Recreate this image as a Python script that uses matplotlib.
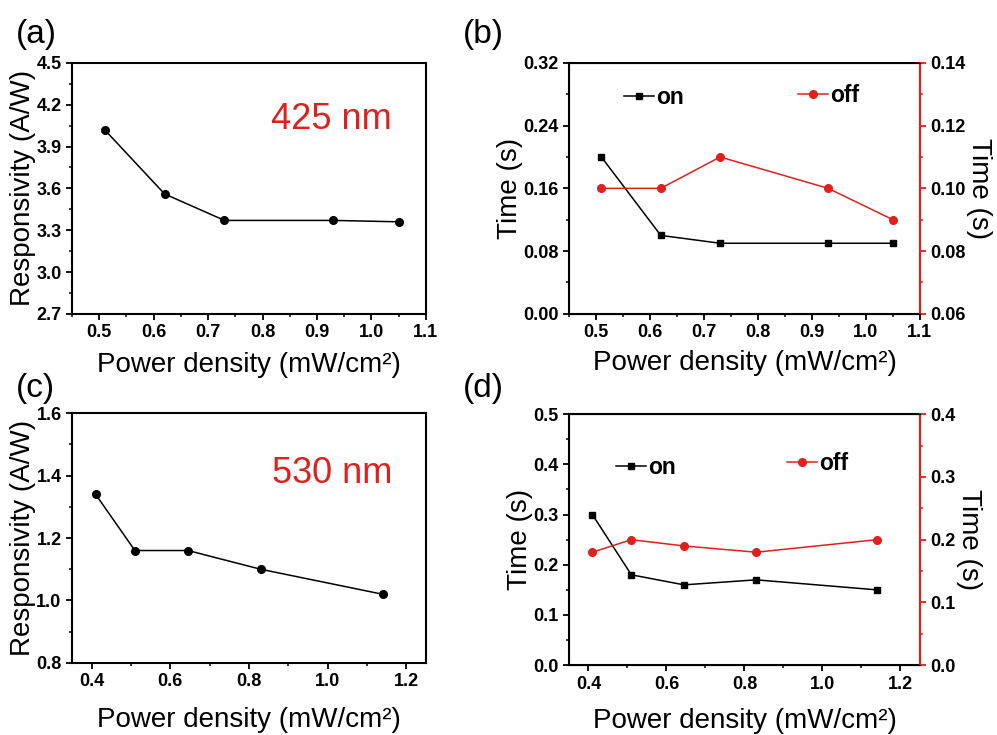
import matplotlib
matplotlib.use("Agg")
import matplotlib.pyplot as plt
from matplotlib.ticker import MultipleLocator, AutoMinorLocator

plt.rcParams['font.family'] = ['Liberation Sans', 'DejaVu Sans']

# ------------ data ----------------
x_425 = [0.51, 0.62, 0.73, 0.93, 1.05]
resp_425 = [4.02, 3.56, 3.37, 3.37, 3.36]
t_on_425 = [0.20, 0.10, 0.09, 0.09, 0.09]
t_off_425 = [0.10, 0.10, 0.11, 0.10, 0.09]

x_530 = [0.41, 0.51, 0.645, 0.83, 1.14]
resp_530 = [1.34, 1.16, 1.16, 1.10, 1.02]
t_on_530 = [0.30, 0.18, 0.16, 0.17, 0.15]
t_off_530 = [0.18, 0.20, 0.19, 0.18, 0.20]

RED = '#e0201f'
XLABEL = 'Power density (mW/cm²)'
TICK_SIZE = 13


def style(ax, xlim, xstep, ylim, ystep):
    ax.set_xlim(*xlim)
    ax.set_ylim(*ylim)
    ax.xaxis.set_major_locator(MultipleLocator(xstep))
    ax.xaxis.set_minor_locator(AutoMinorLocator(2))
    ax.yaxis.set_major_locator(MultipleLocator(ystep))
    ax.yaxis.set_minor_locator(AutoMinorLocator(2))
    for s in ax.spines.values():
        s.set_linewidth(1.5)
    ax.tick_params(which='major', direction='out', length=4, width=1.3,
                   labelsize=TICK_SIZE, top=False, right=False)
    ax.tick_params(which='minor', direction='out', length=2.5, width=1.1,
                   top=False, right=False)
    plt.setp(ax.get_xticklabels(), fontweight='bold')
    plt.setp(ax.get_yticklabels(), fontweight='bold')


def style_right(ax2, ylim, ystep):
    ax2.set_ylim(*ylim)
    ax2.yaxis.set_major_locator(MultipleLocator(ystep))
    ax2.yaxis.set_minor_locator(AutoMinorLocator(2))
    ax2.spines['right'].set_color(RED)
    ax2.spines['right'].set_linewidth(1.5)
    ax2.tick_params(axis='y', which='major', direction='out', length=4,
                    width=1.3, color=RED, labelsize=TICK_SIZE, labelcolor='black')
    ax2.tick_params(axis='y', which='minor', direction='out', length=2.5,
                    width=1.1, color=RED)
    plt.setp(ax2.get_yticklabels(), fontweight='bold')


def legend_at(ax, line, label, xy):
    leg = ax.legend([line], [label], loc='center left', bbox_to_anchor=xy,
                    frameon=False, handlelength=1.3, handletextpad=0.1,
                    borderpad=0, borderaxespad=0, numpoints=1,
                    prop={'weight': 'bold', 'size': 16.5})
    return leg


fig = plt.figure(figsize=(9.97, 7.35), dpi=100)

ax_a = fig.add_axes([0.0722, 0.573, 0.355, 0.3415])
ax_b = fig.add_axes([0.5707, 0.573, 0.352, 0.3415])
ax_c = fig.add_axes([0.0722, 0.098, 0.355, 0.340])
ax_d = fig.add_axes([0.5707, 0.095, 0.352, 0.3415])

# (a)
ax_a.plot(x_425, resp_425, color='black', lw=1.1, marker='o', ms=5.5)
style(ax_a, (0.45, 1.1), 0.1, (2.7, 4.5), 0.3)
ax_a.text(0.734, 0.773, '425 nm', transform=ax_a.transAxes, color=RED,
          fontsize=26, ha='center', va='center')
ax_a.set_ylabel('Responsivity (A/W)', fontsize=20, labelpad=0)
ax_a.set_xlabel(XLABEL, fontsize=20, labelpad=8)

# (b)
on_b, = ax_b.plot(x_425, t_on_425, color='black', lw=1.1, marker='s', ms=5)
style(ax_b, (0.45, 1.1), 0.1, (0, 0.32), 0.08)
ax_b.yaxis.set_major_formatter('{x:.2f}')
plt.setp(ax_b.get_yticklabels(), fontweight='bold')
ax_b2 = ax_b.twinx()
off_b, = ax_b2.plot(x_425, t_off_425, color=RED, lw=1.1, marker='o', ms=5.5)
style_right(ax_b2, (0.06, 0.14), 0.02)
ax_b2.yaxis.set_major_formatter('{x:.2f}')
plt.setp(ax_b2.get_yticklabels(), fontweight='bold')
ax_b.set_ylabel('Time (s)', fontsize=20, labelpad=0)
ax_b2.set_ylabel('Time (s)', fontsize=20, rotation=270, va='bottom', labelpad=0)
ax_b.set_xlabel(XLABEL, fontsize=20, labelpad=6)
ax_b2.add_artist(legend_at(ax_b2, on_b, 'on', (0.157, 0.862)))
legend_at(ax_b2, off_b, 'off', (0.652, 0.869))

# (c)
ax_c.plot(x_530, resp_530, color='black', lw=1.1, marker='o', ms=5.5)
style(ax_c, (0.35, 1.25), 0.2, (0.8, 1.6), 0.2)
ax_c.text(0.734, 0.76, '530 nm', transform=ax_c.transAxes, color=RED,
          fontsize=26, ha='center', va='center')
ax_c.set_ylabel('Responsivity (A/W)', fontsize=20, labelpad=0)
ax_c.set_xlabel(XLABEL, fontsize=20, labelpad=12)

# (d)
on_d, = ax_d.plot(x_530, t_on_530, color='black', lw=1.1, marker='s', ms=5)
style(ax_d, (0.35, 1.25), 0.2, (0, 0.5), 0.1)
ax_d2 = ax_d.twinx()
off_d, = ax_d2.plot(x_530, t_off_530, color=RED, lw=1.1, marker='o', ms=5.5)
style_right(ax_d2, (0, 0.4), 0.1)
ax_d.set_ylabel('Time (s)', fontsize=20, labelpad=0)
ax_d2.set_ylabel('Time (s)', fontsize=20, rotation=270, va='bottom', labelpad=0)
ax_d.set_xlabel(XLABEL, fontsize=20, labelpad=11)
ax_d2.add_artist(legend_at(ax_d2, on_d, 'on', (0.134, 0.786)))
legend_at(ax_d2, off_d, 'off', (0.621, 0.802))

for lbl, x, y in [('(a)', 0.036, 0.953), ('(b)', 0.485, 0.953),
                  ('(c)', 0.036, 0.472), ('(d)', 0.485, 0.472)]:
    fig.text(x, y, lbl, fontsize=24, ha='center', va='center')

fig.savefig('out.png', dpi=100)
